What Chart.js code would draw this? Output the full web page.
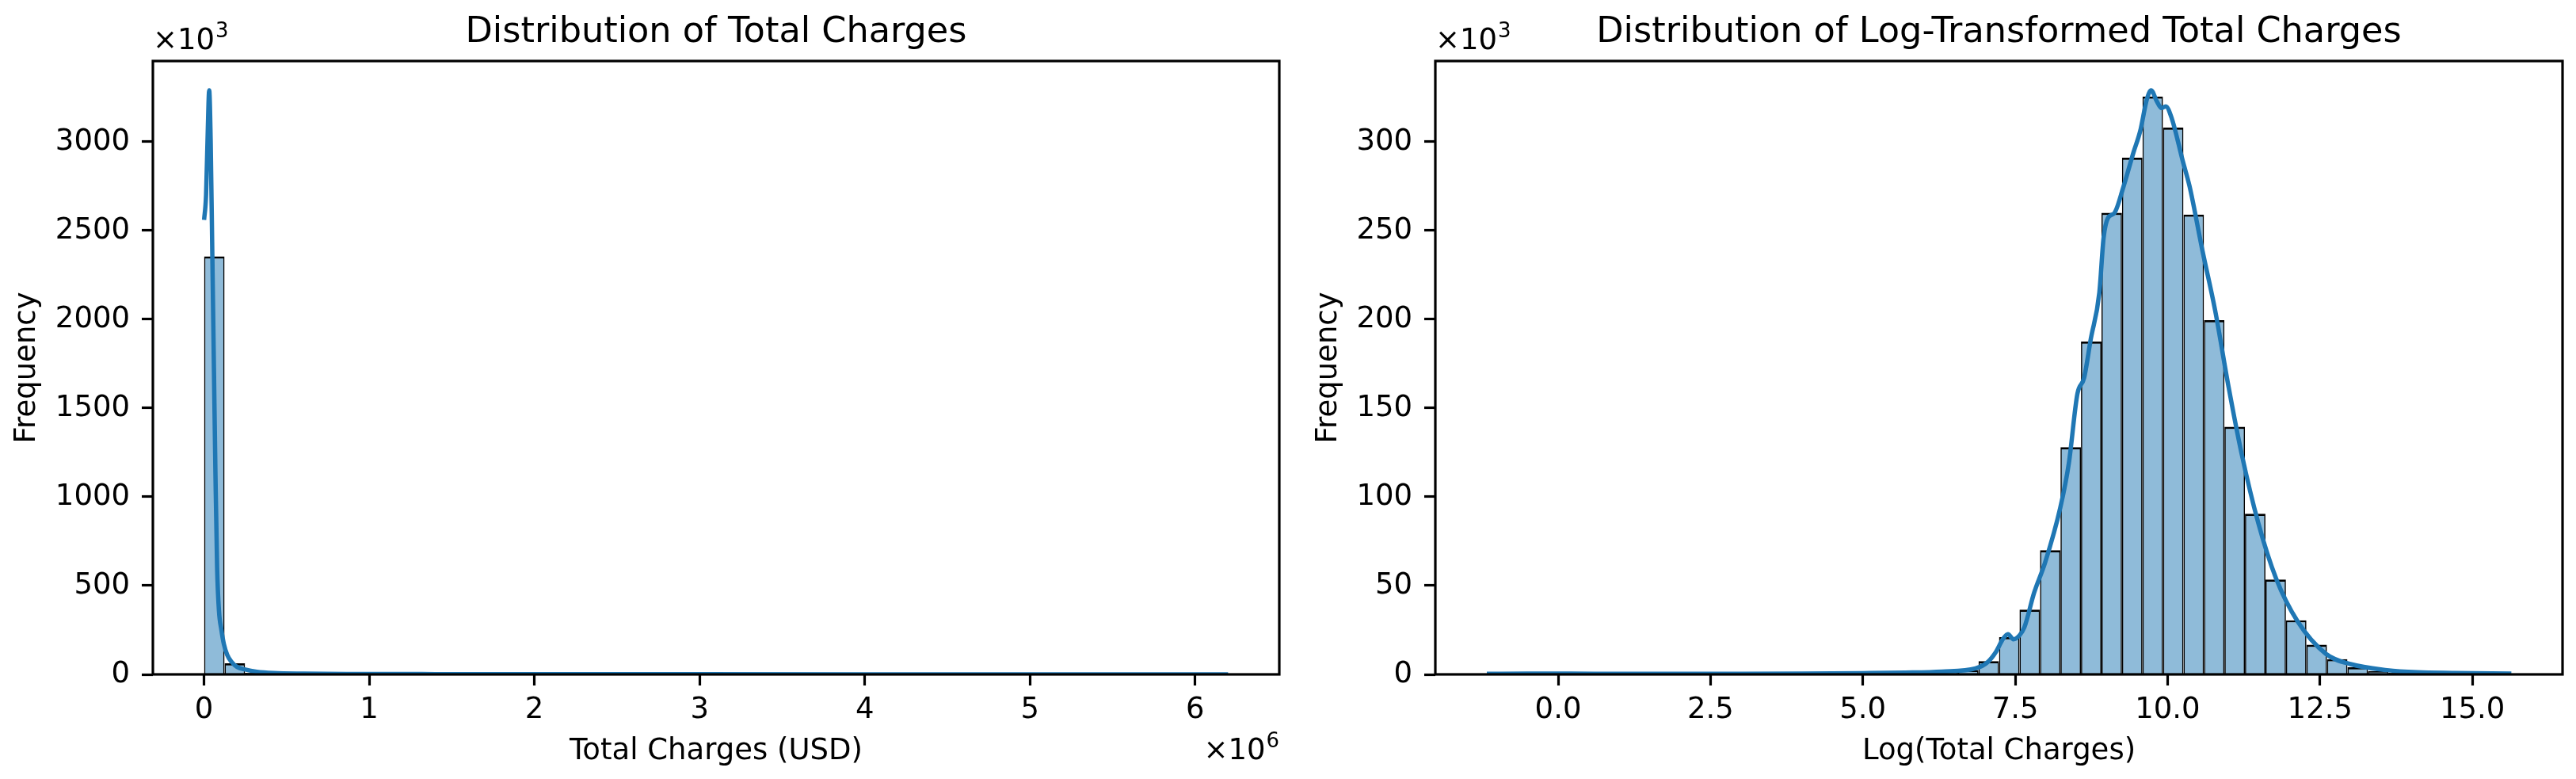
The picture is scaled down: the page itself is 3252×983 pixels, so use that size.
<!DOCTYPE html>
<html>
<head>
<meta charset="utf-8">
<script src="https://cdn.jsdelivr.net/npm/chart.js@4.4.1/dist/chart.umd.min.js"></script>
<style>
  body { margin: 0; background: #fff; }
  #wrap { position: relative; width: 3252px; height: 983px; }
  canvas { position: absolute; top: 0; }
</style>
</head>
<body>
<div id="wrap">
  <canvas id="chargesChart" width="1626" height="983" style="left:0"></canvas>
  <canvas id="logChart" width="1626" height="983" style="left:1626px"></canvas>
</div>
<script>
// Left panel: total charges, 50 bins, x in millions of USD
const chargeBinStart = 0;
const chargeBinWidth = 0.124;
const chargeCounts = [
  2355, 62, 9, 4, 3, 2.2, 1.8, 1.5, 1.3, 1.1,
  1, 0.9, 0.8, 0.8, 0.7, 0.7, 0.6, 0.6, 0.5, 0.5,
  0.5, 0.4, 0.4, 0.4, 0.3, 0.3, 0.3, 0.3, 0.3, 0.2,
  0.2, 0.2, 0.2, 0.2, 0.2, 0.1, 0.1, 0.1, 0.1, 0.1,
  0.1, 0.1, 0.1, 0.1, 0, 0, 0, 0, 0, 0.1
];
const chargeKdeX = [0, 0.012, 0.022, 0.031, 0.04, 0.05, 0.06, 0.069, 0.079, 0.09,
  0.105, 0.12, 0.14, 0.165, 0.2, 0.25, 0.32, 0.42, 0.6, 0.9, 1.4, 2, 3, 4, 5, 6.2];
const chargeKdeY = [2560, 2700, 3050, 3290, 3000, 2357, 1700, 1120, 600, 360,
  250, 170, 110, 72, 42, 27, 15, 8, 4.5, 2.5, 1.6, 1.1, 0.7, 0.5, 0.4, 0.3];
const chargeXTicks = [0, 1, 2, 3, 4, 5, 6];
const chargeYTicks = [0, 500, 1000, 1500, 2000, 2500, 3000];

// Right panel: log of total charges, 50 bins
const logBinStart = -1.174;
const logBinWidth = 0.3363;
const logCounts = [
  0.4, 0.5, 0.5, 0.4, 0.2, 0.2, 0.1, 0.3, 0.4, 0.4,
  0.4, 0.4, 0.4, 0.4, 0.4, 0.4, 0.5, 0.5, 0.6, 0.7,
  0.8, 1.2, 1.8, 2.5, 7.5, 21, 36.5, 70, 128, 187.5,
  260, 291, 325.5, 308, 259, 199.5, 139.5, 90.5, 53.4, 30.5,
  16.7, 8.6, 4, 1.8, 0.9, 0.5, 0.3, 0.2, 0.1, 0.1
];
const logKdeX = [-1.17, -0.5, 0.2, 1, 2, 3, 4, 5, 5.7, 6.3, 6.85, 7.05, 7.18, 7.3, 7.38,
  7.47, 7.57, 7.65, 7.81, 7.99, 8.24, 8.38, 8.52, 8.63, 8.74, 8.88, 8.95, 9.02, 9.13,
  9.27, 9.44, 9.55, 9.66, 9.73, 9.82, 9.9, 9.97, 10.07, 10.25, 10.36, 10.57, 10.78,
  11.0, 11.21, 11.49, 11.78, 12.13, 12.6, 13.0, 13.6, 14.1, 14.7, 15.64];
const logKdeY = [0.3, 0.4, 0.4, 0.3, 0.3, 0.35, 0.45, 0.7, 1.0, 1.6, 3.4, 7, 12.5, 20, 22.7,
  19.8, 22, 26.5, 46, 63, 94, 119, 158, 167, 189, 215, 246, 257, 260,
  274, 294, 306, 324, 329, 323, 319, 320, 313, 289, 275, 239, 205,
  162, 125, 85, 54, 30, 11.5, 5.8, 2.4, 1.2, 0.8, 0.4];
const logXTicks = [0, 2.5, 5, 7.5, 10, 12.5, 15];
const logYTicks = [0, 50, 100, 150, 200, 250, 300];

Chart.defaults.font.family = "'DejaVu Sans', sans-serif";
Chart.defaults.font.size = 37;
Chart.defaults.color = '#000';

function histPoints(start, width, counts) {
  return counts.map((c, i) => ({ x: start + (i + 0.5) * width, y: c }));
}

function curvePoints(xs, ys) {
  return xs.map((x, i) => ({ x: x, y: ys[i] }));
}

// "x10^n" offset text like matplotlib's scientific axis labels
function drawPower(ctx, x, baseline, exp) {
  ctx.font = "37px 'DejaVu Sans'";
  ctx.fillText('\u00d710', x, baseline);
  const w = ctx.measureText('\u00d710').width;
  ctx.font = "26px 'DejaVu Sans'";
  ctx.fillText(exp, x + w + 1, baseline - 15);
}

function powerWidth(ctx, exp) {
  ctx.font = "37px 'DejaVu Sans'";
  const w = ctx.measureText('\u00d710').width;
  ctx.font = "26px 'DejaVu Sans'";
  return w + 1 + ctx.measureText(exp).width;
}

// axes box on top of the bars, plus title and offset texts
const framePlugin = {
  id: 'frame',
  afterDatasetsDraw(chart, args, opts) {
    const { ctx, chartArea: a } = chart;
    ctx.save();
    ctx.strokeStyle = '#000';
    ctx.lineWidth = 3.2;
    ctx.strokeRect(a.left, a.top, a.right - a.left, a.bottom - a.top);
    ctx.restore();
  },
  afterDraw(chart, args, opts) {
    const { ctx, chartArea: a } = chart;
    ctx.save();
    ctx.fillStyle = '#000';
    ctx.textBaseline = 'alphabetic';
    ctx.textAlign = 'center';
    ctx.font = "44.6px 'DejaVu Sans'";
    ctx.fillText(opts.title, (a.left + a.right) / 2, 53);
    ctx.textAlign = 'left';
    drawPower(ctx, a.left, 62, opts.yPower);
    if (opts.xPower) {
      drawPower(ctx, a.right - powerWidth(ctx, opts.xPower), 958, opts.xPower);
    }
    ctx.restore();
  }
};

function makeChart(id, cfg) {
  const tickGrid = {
    display: true, drawOnChartArea: false, drawTicks: true,
    tickLength: 14, tickWidth: 3.2, tickColor: '#000', offset: false
  };
  return new Chart(document.getElementById(id), {
    type: 'bar',
    data: {
      datasets: [
        {
          type: 'line',
          data: curvePoints(cfg.kdeX, cfg.kdeY),
          borderColor: '#1f77b4',
          borderWidth: 5.5,
          pointRadius: 0,
          cubicInterpolationMode: 'monotone',
          order: 0
        },
        {
          data: histPoints(cfg.binStart, cfg.binWidth, cfg.counts),
          backgroundColor: 'rgba(31, 119, 180, 0.5)',
          borderColor: '#000',
          borderWidth: { top: 2.7, left: 1.6, right: 1.6, bottom: 0 },
          borderSkipped: false,
          inflateAmount: 0,
          barPercentage: 1,
          categoryPercentage: 1,
          order: 1
        }
      ]
    },
    options: {
      responsive: false,
      animation: false,
      devicePixelRatio: 1,
      layout: { padding: { top: 77, right: cfg.padRight, bottom: 0, left: 0 } },
      plugins: {
        legend: { display: false },
        tooltip: { enabled: false },
        frame: { title: cfg.title, yPower: '3', xPower: cfg.xPower }
      },
      scales: {
        x: {
          type: 'linear',
          min: cfg.xMin,
          max: cfg.xMax,
          offset: false,
          grid: tickGrid,
          border: { display: false },
          afterBuildTicks: axis => { axis.ticks = cfg.xTicks.map(v => ({ value: v })); },
          afterFit: scale => { scale.height = 132; },
          ticks: { padding: 9, maxRotation: 0, autoSkip: false, callback: cfg.xFormat },
          title: { display: true, text: cfg.xTitle, padding: { top: 0, bottom: 12 } }
        },
        y: {
          min: 0,
          max: cfg.yMax,
          grid: tickGrid,
          border: { display: false },
          afterBuildTicks: axis => { axis.ticks = cfg.yTicks.map(v => ({ value: v })); },
          afterFit: scale => { scale.width = cfg.yWidth; },
          ticks: { padding: 15, autoSkip: false, callback: v => String(v) },
          title: { display: true, text: 'Frequency', padding: { top: cfg.yTitlePad, bottom: 0 } }
        }
      }
    },
    plugins: [framePlugin]
  });
}

makeChart('chargesChart', {
  title: 'Distribution of Total Charges',
  xTitle: 'Total Charges (USD)',
  xPower: '6',
  binStart: chargeBinStart, binWidth: chargeBinWidth, counts: chargeCounts,
  kdeX: chargeKdeX, kdeY: chargeKdeY,
  xTicks: chargeXTicks, yTicks: chargeYTicks,
  xFormat: v => String(v),
  xMin: -0.31, xMax: 6.51, yMax: 3455,
  yWidth: 193, padRight: 11, yTitlePad: 12
});

makeChart('logChart', {
  title: 'Distribution of Log-Transformed Total Charges',
  xTitle: 'Log(Total Charges)',
  xPower: null,
  binStart: logBinStart, binWidth: logBinWidth, counts: logCounts,
  kdeX: logKdeX, kdeY: logKdeY,
  xTicks: logXTicks, yTicks: logYTicks,
  xFormat: v => v.toFixed(1),
  xMin: -2.015, xMax: 16.48, yMax: 345.5,
  yWidth: 186, padRight: 17, yTitlePad: 29
});
</script>
</body>
</html>
